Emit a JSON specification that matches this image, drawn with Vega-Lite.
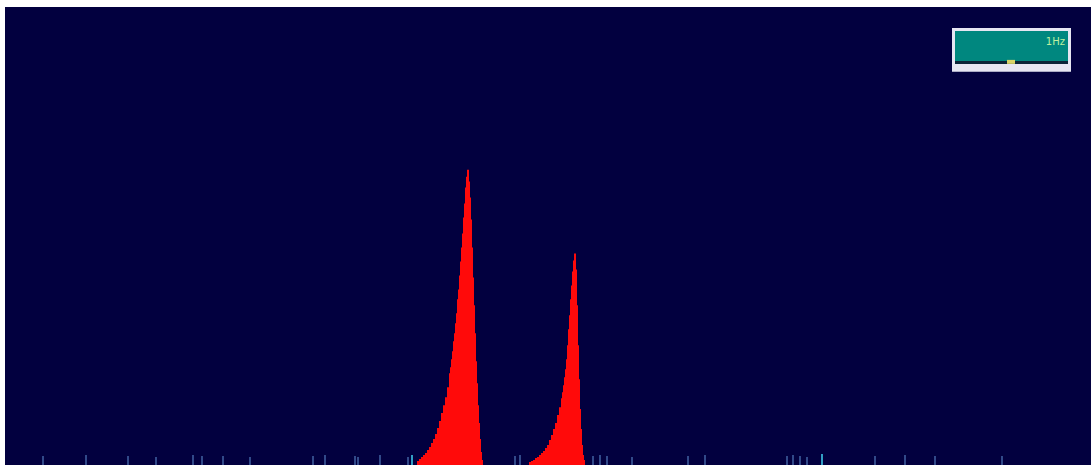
{
  "$schema": "https://vega.github.io/schema/vega-lite/v6.json",
  "width": 1091,
  "height": 466,
  "autosize": {"type": "fit", "contains": "padding"},
  "padding": {"left": 5, "top": 7, "right": 0, "bottom": 0},
  "background": "#ffffff",
  "config": {"view": {"fill": "#02003f", "stroke": null}},
  "datasets": {
    "ticks": [
      {"f": 43, "h": 9, "k": "b"}, {"f": 86, "h": 10, "k": "b"}, {"f": 128, "h": 9, "k": "b"},
      {"f": 156, "h": 8, "k": "b"}, {"f": 193, "h": 10, "k": "b"}, {"f": 202, "h": 9, "k": "b"},
      {"f": 223, "h": 9, "k": "b"}, {"f": 250, "h": 8, "k": "b"}, {"f": 313, "h": 9, "k": "b"},
      {"f": 325, "h": 10, "k": "b"}, {"f": 355, "h": 9, "k": "b"}, {"f": 358, "h": 8, "k": "b"},
      {"f": 380, "h": 10, "k": "b"}, {"f": 408, "h": 8, "k": "b"}, {"f": 412, "h": 10, "k": "c"},
      {"f": 515, "h": 9, "k": "b"}, {"f": 520, "h": 10, "k": "b"}, {"f": 593, "h": 9, "k": "b"},
      {"f": 600, "h": 10, "k": "b"}, {"f": 607, "h": 9, "k": "b"}, {"f": 632, "h": 8, "k": "b"},
      {"f": 688, "h": 9, "k": "b"}, {"f": 705, "h": 10, "k": "b"}, {"f": 787, "h": 9, "k": "b"},
      {"f": 793, "h": 10, "k": "b"}, {"f": 800, "h": 9, "k": "b"}, {"f": 807, "h": 8, "k": "b"},
      {"f": 822, "h": 11, "k": "c"}, {"f": 875, "h": 9, "k": "b"}, {"f": 905, "h": 10, "k": "b"},
      {"f": 935, "h": 9, "k": "b"}, {"f": 1002, "h": 9, "k": "b"}
    ],
    "spec": [
      {"f": 418, "a": 4}, {"f": 420, "a": 6}, {"f": 422, "a": 8}, {"f": 424, "a": 10},
      {"f": 426, "a": 12}, {"f": 428, "a": 15}, {"f": 430, "a": 18}, {"f": 432, "a": 22},
      {"f": 434, "a": 26}, {"f": 436, "a": 31}, {"f": 438, "a": 37}, {"f": 440, "a": 44},
      {"f": 442, "a": 52}, {"f": 444, "a": 60}, {"f": 446, "a": 68}, {"f": 448, "a": 78},
      {"f": 450, "a": 92}, {"f": 451, "a": 98}, {"f": 452, "a": 106}, {"f": 453, "a": 114},
      {"f": 454, "a": 124}, {"f": 455, "a": 132}, {"f": 456, "a": 142}, {"f": 457, "a": 152},
      {"f": 458, "a": 166}, {"f": 459, "a": 176}, {"f": 460, "a": 190}, {"f": 461, "a": 204},
      {"f": 462, "a": 218}, {"f": 463, "a": 232}, {"f": 464, "a": 248}, {"f": 465, "a": 262},
      {"f": 466, "a": 278}, {"f": 467, "a": 289}, {"f": 468, "a": 296}, {"f": 469, "a": 284},
      {"f": 470, "a": 268}, {"f": 471, "a": 246}, {"f": 472, "a": 218}, {"f": 473, "a": 188},
      {"f": 474, "a": 160}, {"f": 475, "a": 132}, {"f": 476, "a": 104}, {"f": 477, "a": 82},
      {"f": 478, "a": 60}, {"f": 479, "a": 42}, {"f": 480, "a": 26}, {"f": 481, "a": 13},
      {"f": 482, "a": 5},
      {"f": 530, "a": 3}, {"f": 532, "a": 4}, {"f": 534, "a": 5}, {"f": 536, "a": 7},
      {"f": 538, "a": 8}, {"f": 540, "a": 10}, {"f": 542, "a": 12}, {"f": 544, "a": 14},
      {"f": 546, "a": 17}, {"f": 548, "a": 20}, {"f": 550, "a": 25},
      {"f": 552, "a": 30}, {"f": 554, "a": 36}, {"f": 556, "a": 42}, {"f": 558, "a": 50},
      {"f": 560, "a": 58}, {"f": 562, "a": 67}, {"f": 563, "a": 73}, {"f": 564, "a": 80},
      {"f": 565, "a": 88}, {"f": 566, "a": 96}, {"f": 567, "a": 106}, {"f": 568, "a": 120},
      {"f": 569, "a": 136}, {"f": 570, "a": 150}, {"f": 571, "a": 166}, {"f": 572, "a": 180},
      {"f": 573, "a": 194}, {"f": 574, "a": 205}, {"f": 575, "a": 212}, {"f": 576, "a": 196},
      {"f": 577, "a": 160}, {"f": 578, "a": 120}, {"f": 579, "a": 86}, {"f": 580, "a": 56},
      {"f": 581, "a": 36}, {"f": 582, "a": 20}, {"f": 583, "a": 10}, {"f": 584, "a": 5}
    ]
  },
  "layer": [
    {
      "data": {"name": "ticks"},
      "mark": {"type": "rule", "strokeWidth": 2, "opacity": 0.8},
      "encoding": {
        "x": {"field": "f", "type": "quantitative", "scale": {"domain": [5, 1091], "nice": false, "zero": false}, "axis": null},
        "y": {"field": "h", "type": "quantitative", "scale": {"domain": [0, 459], "nice": false}, "axis": null},
        "y2": {"datum": 0},
        "color": {"field": "k", "type": "nominal", "scale": {"domain": ["b", "c"], "range": ["#3d5b9c", "#3fc6e6"]}, "legend": null}
      }
    },
    {
      "data": {"name": "spec"},
      "mark": {"type": "rule", "strokeWidth": 2, "color": "#ff0a0a"},
      "encoding": {
        "x": {"field": "f", "type": "quantitative", "scale": {"domain": [5, 1091], "nice": false, "zero": false}, "axis": null},
        "y": {"field": "a", "type": "quantitative", "scale": {"domain": [0, 459], "nice": false}, "axis": null},
        "y2": {"datum": 0}
      }
    },
    {
      "data": {"values": [{}]},
      "mark": {"type": "rect", "fill": "#e6e6f2"},
      "encoding": {
        "x": {"datum": 952, "type": "quantitative", "scale": {"domain": [5, 1091], "nice": false, "zero": false}, "axis": null},
        "x2": {"datum": 1071},
        "y": {"datum": 394, "type": "quantitative", "scale": {"domain": [0, 459], "nice": false}, "axis": null},
        "y2": {"datum": 438}
      }
    },
    {
      "data": {"values": [{}]},
      "mark": {"type": "rect", "fill": "#00877f"},
      "encoding": {
        "x": {"datum": 955, "type": "quantitative", "scale": {"domain": [5, 1091], "nice": false, "zero": false}, "axis": null},
        "x2": {"datum": 1068},
        "y": {"datum": 405, "type": "quantitative", "scale": {"domain": [0, 459], "nice": false}, "axis": null},
        "y2": {"datum": 435}
      }
    },
    {
      "data": {"values": [{}]},
      "mark": {"type": "rect", "fill": "#0c2438"},
      "encoding": {
        "x": {"datum": 955, "type": "quantitative", "scale": {"domain": [5, 1091], "nice": false, "zero": false}, "axis": null},
        "x2": {"datum": 1068},
        "y": {"datum": 402, "type": "quantitative", "scale": {"domain": [0, 459], "nice": false}, "axis": null},
        "y2": {"datum": 405}
      }
    },
    {
      "data": {"values": [{}]},
      "mark": {"type": "rect", "fill": "#d8d468"},
      "encoding": {
        "x": {"datum": 1007, "type": "quantitative", "scale": {"domain": [5, 1091], "nice": false, "zero": false}, "axis": null},
        "x2": {"datum": 1015},
        "y": {"datum": 402, "type": "quantitative", "scale": {"domain": [0, 459], "nice": false}, "axis": null},
        "y2": {"datum": 406}
      }
    },
    {
      "data": {"values": [{"t": "1Hz"}]},
      "mark": {"type": "text", "align": "right", "baseline": "middle", "fontSize": 10, "font": "DejaVu Sans", "color": "#bff0a0"},
      "encoding": {
        "x": {"datum": 1065, "type": "quantitative", "scale": {"domain": [5, 1091], "nice": false, "zero": false}, "axis": null},
        "y": {"datum": 424, "type": "quantitative", "scale": {"domain": [0, 459], "nice": false}, "axis": null},
        "text": {"field": "t"}
      }
    }
  ]
}
